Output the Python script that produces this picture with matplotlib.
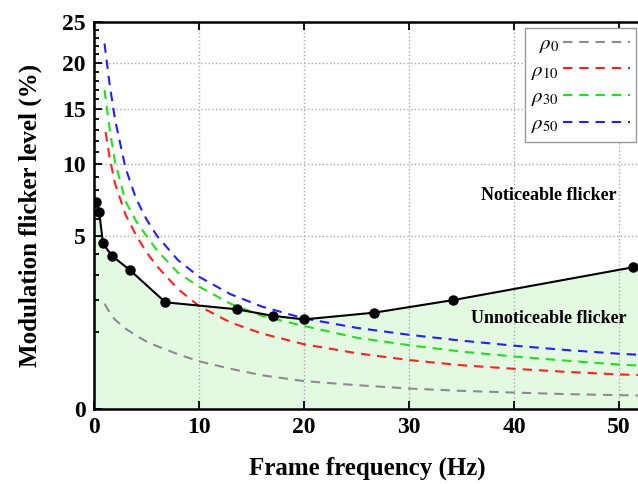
import numpy as np
import matplotlib
matplotlib.use("Agg")
import matplotlib.pyplot as plt

plt.rcParams['font.family'] = ['Liberation Serif', 'DejaVu Serif']
plt.rcParams['mathtext.fontset'] = 'stix'

# measured flicker threshold (frame frequency in Hz, modulation in %)
freq_pts = [0.17, 0.5, 0.85, 1.7, 3.4, 6.8, 13.6, 17.0, 20.0, 26.7, 34.2, 51.3]
thresh_pts = [7.17, 6.46, 4.58, 3.92, 3.23, 1.90, 1.66, 1.45, 1.34, 1.55, 1.98, 3.35]

# modulation curves for different rho values
curve_f = [1, 1.5, 2, 3, 4, 5, 6, 8, 10, 13, 16, 20, 25, 30, 35, 40, 45, 50, 55]
rho0 = [1.85, 1.55, 1.33, 1.08, 0.90, 0.76, 0.66, 0.50, 0.38, 0.27, 0.19, 0.13,
        0.095, 0.07, 0.055, 0.045, 0.037, 0.032, 0.028]
rho10_f = [1.1, 1.5, 2, 3, 4, 5, 6, 8, 10, 13, 16, 20, 25, 30, 35, 40, 45, 50, 55]
rho10 = [12.8, 10.5, 8.5, 6.3, 5.05, 4.1, 3.4, 2.4, 1.77, 1.25, 0.95, 0.70,
         0.52, 0.40, 0.32, 0.27, 0.23, 0.20, 0.18]
rho30 = [17.0, 13.0, 10.2, 7.2, 5.9, 5.0, 4.2, 3.1, 2.5, 1.85, 1.45, 1.15,
         0.85, 0.68, 0.55, 0.46, 0.39, 0.33, 0.29]
rho50 = [22.3, 17.5, 14.0, 9.7, 7.4, 6.0, 5.0, 3.7, 2.92, 2.2, 1.75, 1.37,
         1.10, 0.92, 0.78, 0.67, 0.58, 0.51, 0.46]

labels = [r'$\rho_{0}$', r'$\rho_{10}$', r'$\rho_{30}$', r'$\rho_{50}$']
colors = ['#8c8c8c', '#ff2020', '#20e020', '#2020ff']


def fwd(v):
    return np.sqrt(np.clip(v, 0, None))


def inv(v):
    return np.square(v)


fig = plt.figure(figsize=(6.38, 4.84), dpi=100)
ax = fig.add_axes([94 / 638, 75 / 484, 546 / 638, 387 / 484])
ax.set_yscale('function', functions=(fwd, inv))

# shaded region under the threshold
fill_x = [0] + freq_pts + [52]
fill_y = [thresh_pts[0]] + thresh_pts + [thresh_pts[-1] + 0.05]
ax.fill_between(fill_x, 0, fill_y, color='#e4f9e2', zorder=0)

handles = []
for fx, fy, c, lab in zip([curve_f, rho10_f, curve_f, curve_f],
                          [rho0, rho10, rho30, rho50], colors, labels):
    h, = ax.plot(fx, fy, ls=(0, (4.5, 3.3)), color=c, lw=1.5, label=lab, zorder=2)
    handles.append(h)

ax.plot(freq_pts, thresh_pts, '-o', color='black', lw=1.5, ms=6.5, zorder=4)

ax.set_xlim(0, 52)
ax.set_ylim(0, 25)
ax.set_xticks([0, 10, 20, 30, 40, 50])
ax.set_yticks([0, 5, 10, 15, 20, 25])
ax.set_yticks([v for v in range(1, 25) if v % 5], minor=True)
ax.set_axisbelow(True)
ax.grid(True, which='major', ls=':', color='#aaaaaa', lw=1.0)

ax.tick_params(which='both', direction='in', top=True, right=False,
               labelsize=17, width=1.3)
ax.tick_params(which='major', length=6, pad=6)
ax.tick_params(which='minor', length=3.5)
for lab in ax.get_xticklabels() + ax.get_yticklabels():
    lab.set_fontweight('bold')
for s in ax.spines.values():
    s.set_linewidth(1.8)

ax.set_xlabel('Frame frequency (Hz)', fontsize=18, fontweight='bold', labelpad=13)
ax.set_ylabel('Modulation flicker level (%)', fontsize=18, fontweight='bold', labelpad=14)

ax.text(43.3, 7.64, 'Noticeable flicker', ha='center', va='center',
        fontsize=13, fontweight='bold')
ax.text(43.3, 1.38, 'Unnoticeable flicker', ha='center', va='center',
        fontsize=13, fontweight='bold')

leg = ax.legend(handles=handles, loc='upper right', markerfirst=False,
                bbox_to_anchor=(636 / 638, 1 - 28 / 484), bbox_transform=fig.transFigure,
                borderaxespad=0, fontsize=15, handlelength=3.2, labelspacing=0.3,
                handletextpad=0.2, borderpad=0.3, fancybox=False, framealpha=1,
                edgecolor='#999999')
leg.get_frame().set_linewidth(1.0)
leg.set_zorder(5)

fig.savefig('out.png', dpi=100)
